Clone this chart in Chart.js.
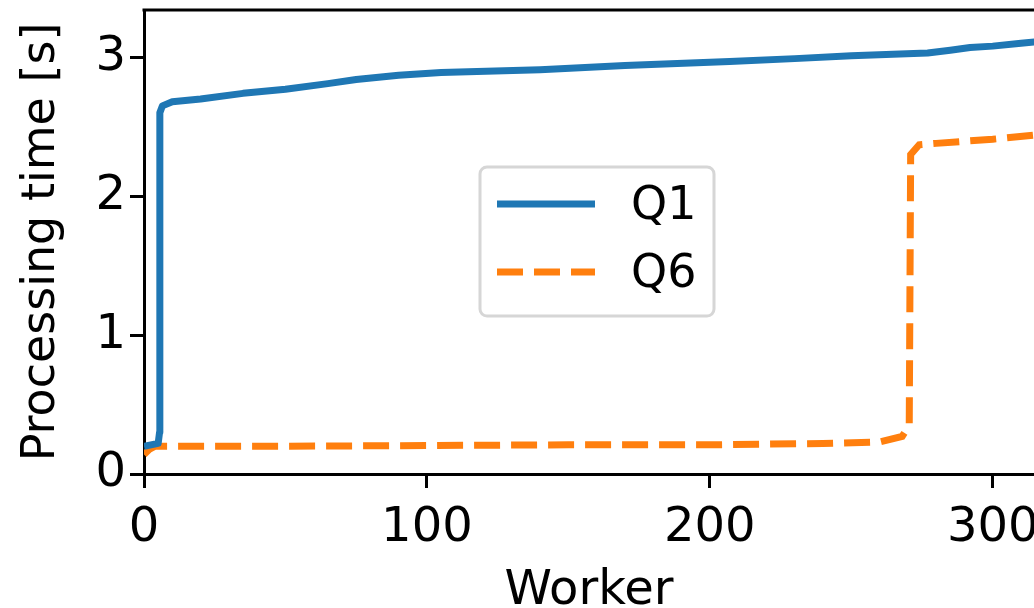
<!DOCTYPE html>
<html><head><meta charset="utf-8">
<script src="https://cdn.jsdelivr.net/npm/chart.js@4.4.0/dist/chart.umd.min.js"></script>
<style>html,body{margin:0;padding:0;background:#fff;overflow:hidden}canvas{display:block}</style>
</head><body>
<canvas id="c" width="1034" height="608"></canvas>
<script>
const seriesLabels = ['Q1', 'Q6'];
const q1Workers = [0, 5, 5.5, 5.6, 6.5, 10, 20, 35, 50, 65, 75, 90, 105, 140, 170, 207, 230, 250, 277, 285, 292, 300, 310, 315];
const q1Times   = [0.20, 0.22, 0.30, 2.60, 2.65, 2.68, 2.70, 2.74, 2.77, 2.81, 2.84, 2.87, 2.89, 2.91, 2.94, 2.97, 2.99, 3.01, 3.03, 3.05, 3.07, 3.08, 3.10, 3.11];
const q6Workers = [0, 2, 4, 50, 150, 200, 240, 260, 268, 270.5, 271, 274, 280, 300, 315];
const q6Times   = [0.14, 0.18, 0.20, 0.20, 0.21, 0.21, 0.22, 0.23, 0.27, 0.35, 2.30, 2.37, 2.38, 2.41, 2.44];
const xTicks = [0, 100, 200, 300];
const yTicks = [0, 1, 2, 3];

const FONT = 'DejaVu Sans';
const toPts = (xs, ys) => xs.map((x, i) => ({x: x, y: ys[i]}));

const frameTop = {
  id: 'frameTop',
  afterDatasetsDraw(chart) {
    const {ctx, chartArea: a} = chart;
    ctx.save();
    ctx.strokeStyle = '#000';
    ctx.lineWidth = 3;
    ctx.beginPath();
    ctx.moveTo(a.left - 1.5, a.top);
    ctx.lineTo(a.right + 2, a.top);
    ctx.stroke();
    ctx.restore();
  }
};

const boxLegend = {
  id: 'boxLegend',
  afterDraw(chart) {
    const {ctx, chartArea: a} = chart;
    const bx = a.left + 336, by = a.top + 157, bw = 234, bh = 149, r = 7;
    ctx.save();
    ctx.fillStyle = 'rgba(255,255,255,0.8)';
    ctx.strokeStyle = '#d6d6d6';
    ctx.lineWidth = 3;
    ctx.beginPath();
    ctx.roundRect(bx, by, bw, bh, r);
    ctx.fill();
    ctx.stroke();
    const rows = [a.top + 194, a.top + 262];
    chart.data.datasets.forEach((ds, i) => {
      const y = rows[i];
      ctx.strokeStyle = ds.borderColor;
      ctx.lineWidth = ds.borderWidth;
      ctx.lineCap = 'butt';
      ctx.setLineDash(ds.borderDash || []);
      ctx.beginPath();
      ctx.moveTo(bx + 17, y);
      ctx.lineTo(bx + 115, y);
      ctx.stroke();
      ctx.setLineDash([]);
      ctx.fillStyle = '#000';
      ctx.font = '46px "' + FONT + '"';
      ctx.textBaseline = 'middle';
      ctx.textAlign = 'left';
      ctx.fillText(ds.label, bx + 151, y + 3);
    });
    ctx.restore();
  }
};

new Chart(document.getElementById('c'), {
  type: 'line',
  data: {
    datasets: [
      { label: seriesLabels[0], data: toPts(q1Workers, q1Times), borderColor: '#1f77b4', borderWidth: 7, pointRadius: 0, tension: 0, fill: false, borderJoinStyle: 'round' },
      { label: seriesLabels[1], data: toPts(q6Workers, q6Times), borderColor: '#ff7f0e', borderWidth: 7, borderDash: [26, 11], pointRadius: 0, tension: 0, fill: false }
    ]
  },
  options: {
    responsive: false,
    animation: false,
    devicePixelRatio: 1,
    layout: { padding: { top: 10, right: 0, left: 0, bottom: 0 } },
    plugins: { legend: { display: false }, tooltip: { enabled: false } },
    scales: {
      x: {
        type: 'linear', position: 'bottom', min: 0, max: 314.6,
        afterBuildTicks: s => { s.ticks = xTicks.map(v => ({value: v})); },
        afterFit: s => { s.height = 134; s.paddingRight = 0; s.paddingLeft = 0; },
        ticks: { includeBounds: false, color: '#000', font: { family: FONT, size: 48 }, padding: 12, maxRotation: 0, autoSkip: false },
        grid: { drawOnChartArea: false, drawTicks: true, tickLength: 14, tickWidth: 3, tickColor: '#000' },
        border: { display: true, color: '#000', width: 3 },
        title: { display: true, text: 'Worker', color: '#000', font: { family: FONT, size: 48, lineHeight: 0.7 }, padding: { top: 0, bottom: 0 } }
      },
      y: {
        type: 'linear', position: 'left', min: 0, max: 3.34,
        afterBuildTicks: s => { s.ticks = yTicks.map(v => ({value: v})); },
        afterFit: s => { s.width = 144; s.paddingTop = 0; s.paddingBottom = 0; },
        ticks: { includeBounds: false, color: '#000', font: { family: FONT, size: 48 }, padding: 4, autoSkip: false },
        grid: { drawOnChartArea: false, drawTicks: true, tickLength: 14, tickWidth: 3, tickColor: '#000' },
        border: { display: true, color: '#000', width: 3 },
        title: { display: true, text: 'Processing time [s]', color: '#000', font: { family: FONT, size: 46, lineHeight: 1 }, padding: { top: 19, bottom: 0 } }
      }
    }
  },
  plugins: [frameTop, boxLegend]
});
</script>
</body></html>
